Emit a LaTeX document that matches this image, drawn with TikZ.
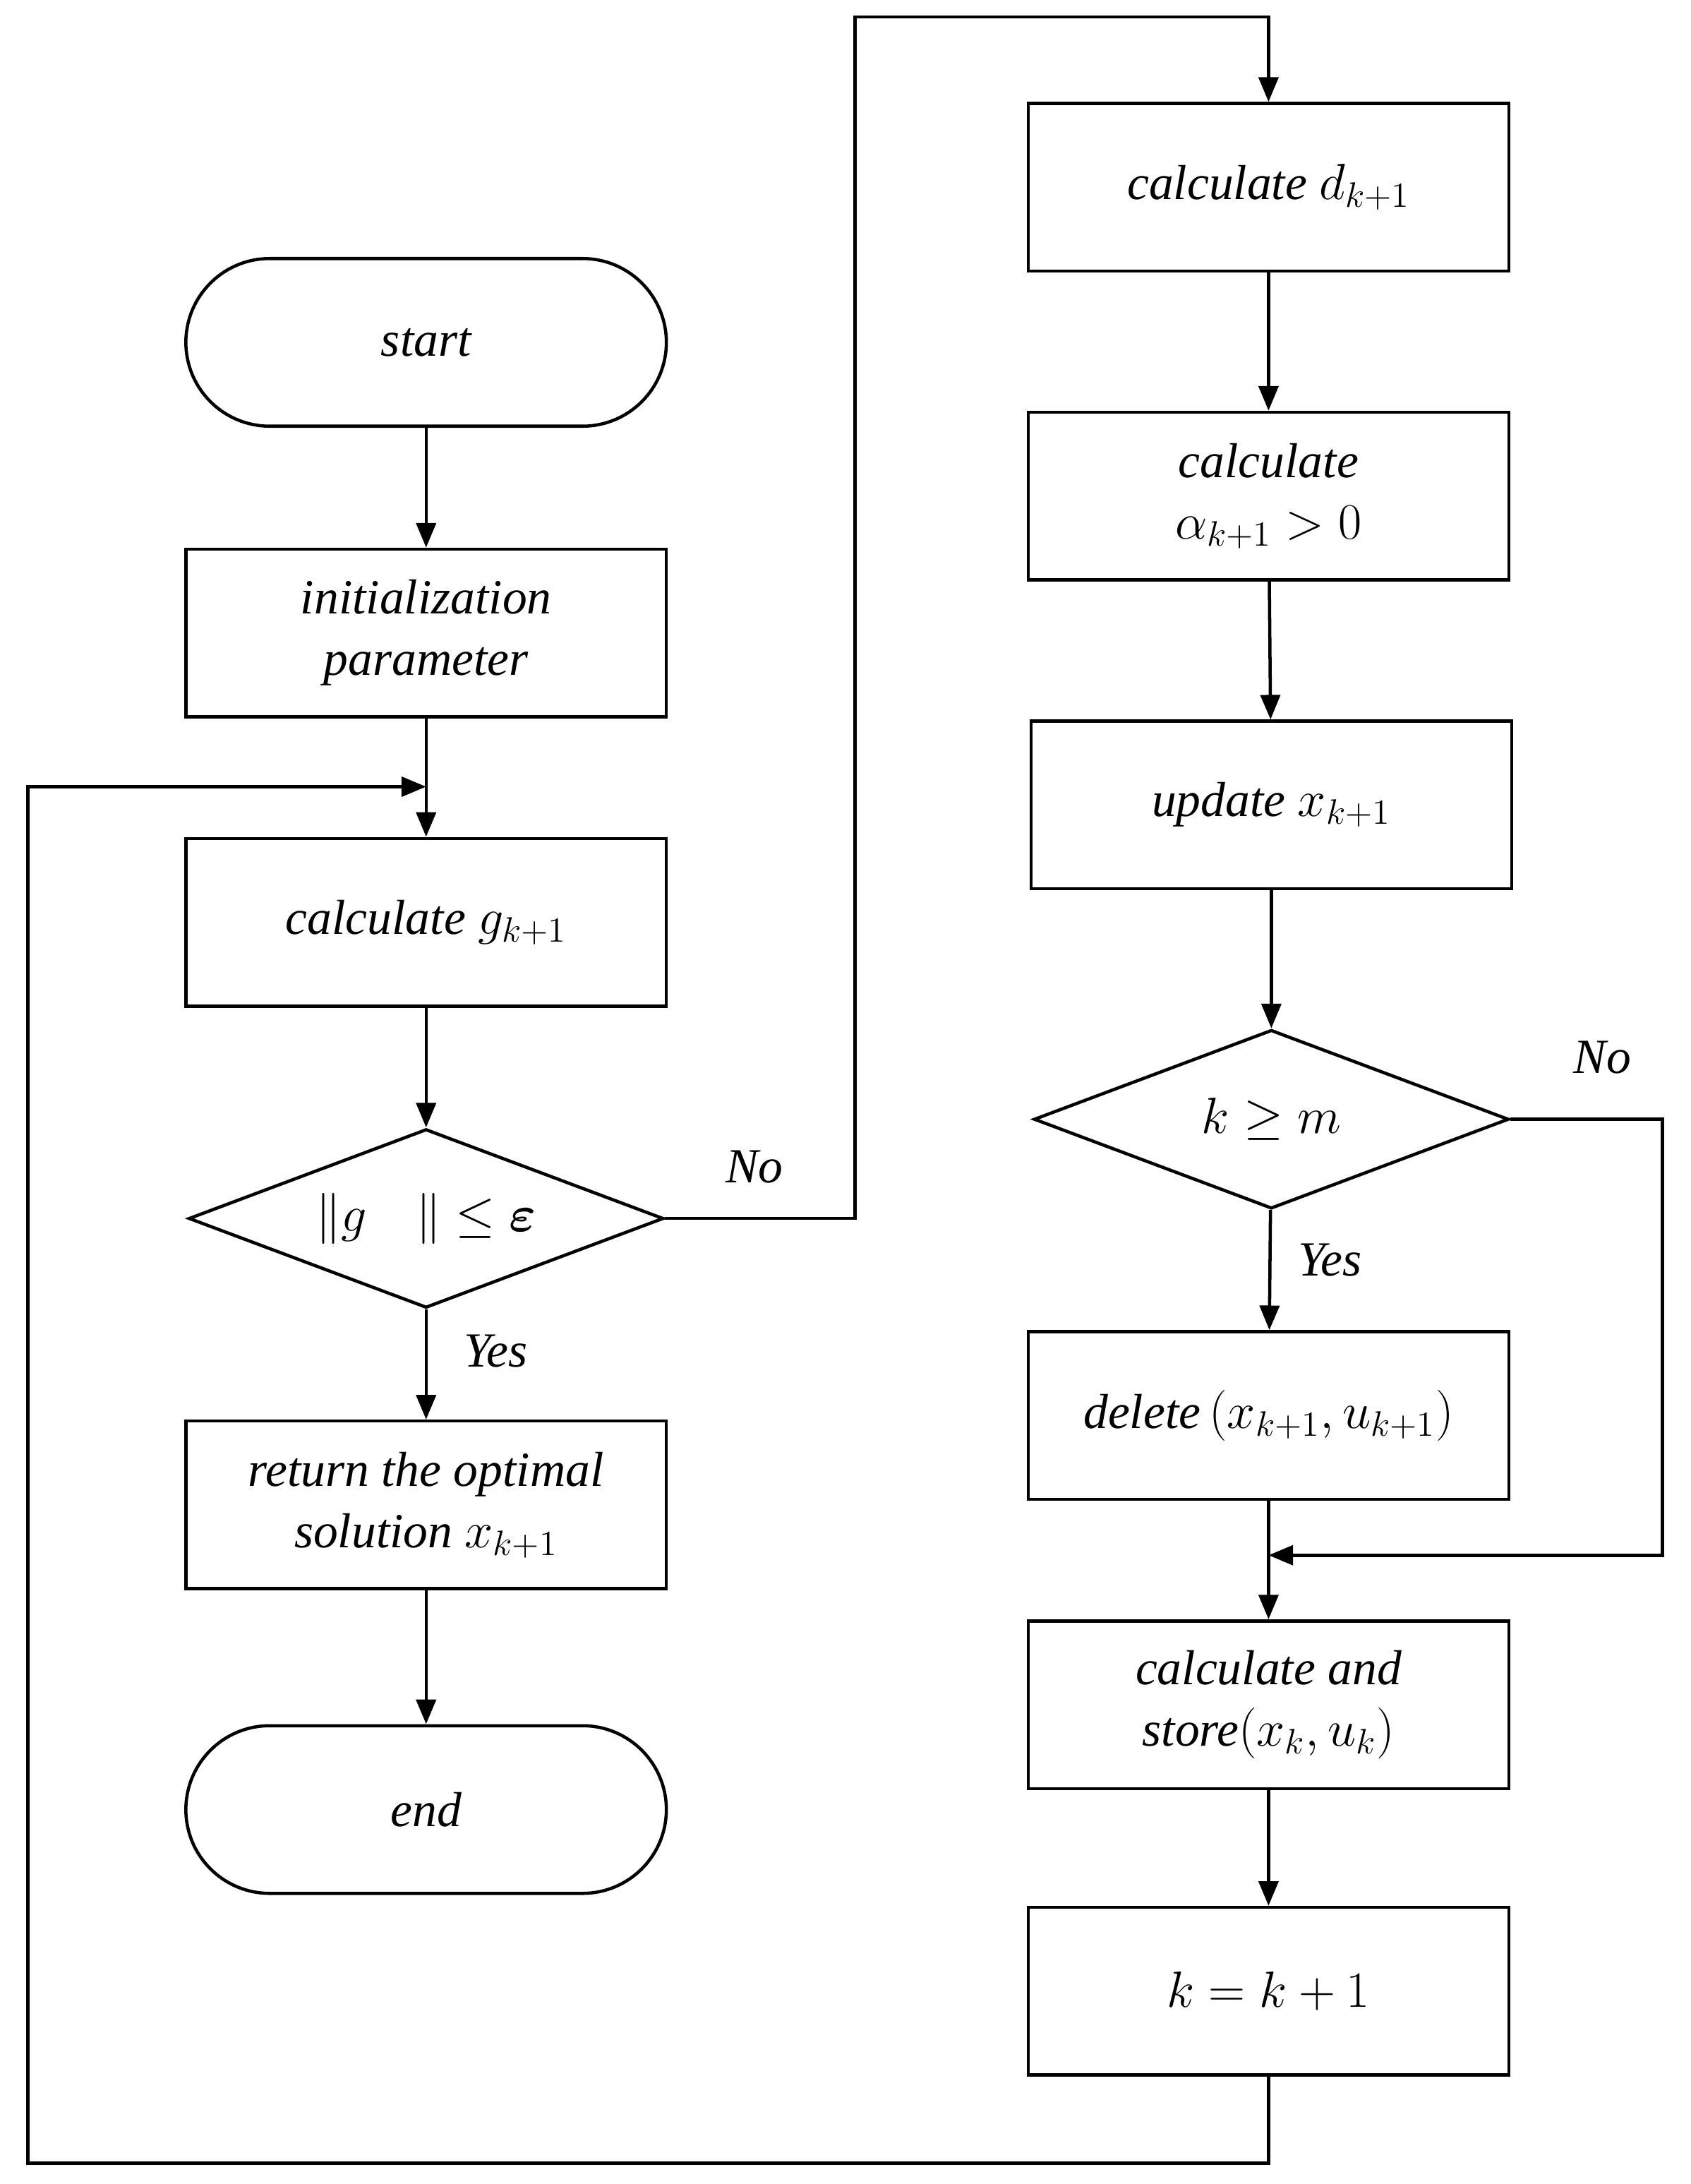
\documentclass[tikz,border=0pt]{standalone}
\usepackage{amsmath,bm}
\usepackage{fontspec}
\setmainfont{Liberation Serif}
\usetikzlibrary{shapes.geometric,arrows.meta}
\begin{document}
\begin{tikzpicture}[x=0.02cm,y=-0.02cm,
  every node/.style={font=\fontsize{20}{25}\selectfont\itshape},
  box/.style={draw,line width=1.3pt,minimum width=6.88cm,minimum height=2.4cm,align=center,inner sep=0pt},
  term/.style={box,rounded corners=1.2cm},
  dia/.style={draw,line width=1.3pt,diamond,aspect=2.66,minimum width=6.8cm,minimum height=2.56cm,inner sep=0pt},
  ln/.style={line width=1.3pt},
  ar/.style={ln,-{Triangle[length=10pt,width=8pt]}},
  lab/.style={font=\fontsize{20}{25}\selectfont\itshape}]
\useasboundingbox (0,0) rectangle (1210,1563);
\node[term] (start) at (305,245) {start};
\node[box] (init) at (305,453) {initialization\\parameter};
\node[box] (g) at (305,660) {calculate $g_{k+1}$};
\node[dia] (d1) at (305,872) {$\|g\quad\|\leq\bm{\varepsilon}$};
\node[box] (ret) at (305,1077) {return the optimal\\solution $x_{k+1}$};
\node[term] (end) at (305,1295) {end};
\node[box] (d) at (908,134) {calculate $d_{k+1}$};
\node[box] (al) at (908,355) {calculate\\$\alpha_{k+1}>0$};
\node[box] (up) at (910,576) {update $x_{k+1}$};
\node[dia] (d2) at (910,801) {$k\geq m$};
\node[box] (del) at (908,1013) {delete$\,(x_{k+1},u_{k+1})$};
\node[box] (st) at (908,1220) {calculate and\\store$(x_k,u_k)$};
\node[box] (kk) at (908,1425) {$k=k+1$};
\coordinate (m1) at (305,563);
\coordinate (m2) at (908,1113);
\draw[ar] (start) -- (init);
\draw[ln] (init) -- (m1);
\draw[ar] (m1) -- (g);
\draw[ar] (g) -- (d1);
\draw[ar] (d1) -- (ret);
\draw[ar] (ret) -- (end);
\draw[ar] (d) -- (al);
\draw[ar] (al) -- (up);
\draw[ar] (up) -- (d2);
\draw[ar] (d2) -- (del);
\draw[ln] (del) -- (m2);
\draw[ar] (m2) -- (st);
\draw[ar] (st) -- (kk);
\draw[ar] (d1.east) -- (612,872) -- (612,12) -- (908,12) -- (d.north);
\draw[ar] (d2.east) -- (1190,801) -- (1190,1113) -- (m2);
\draw[ar] (kk.south) -- (908,1548) -- (20,1548) -- (20,563) -- (m1);
\node[lab] at (540,835) {No};
\node[lab] at (355,967) {Yes};
\node[lab] at (952,902) {Yes};
\node[lab] at (1147,757) {No};
\end{tikzpicture}
\end{document}
